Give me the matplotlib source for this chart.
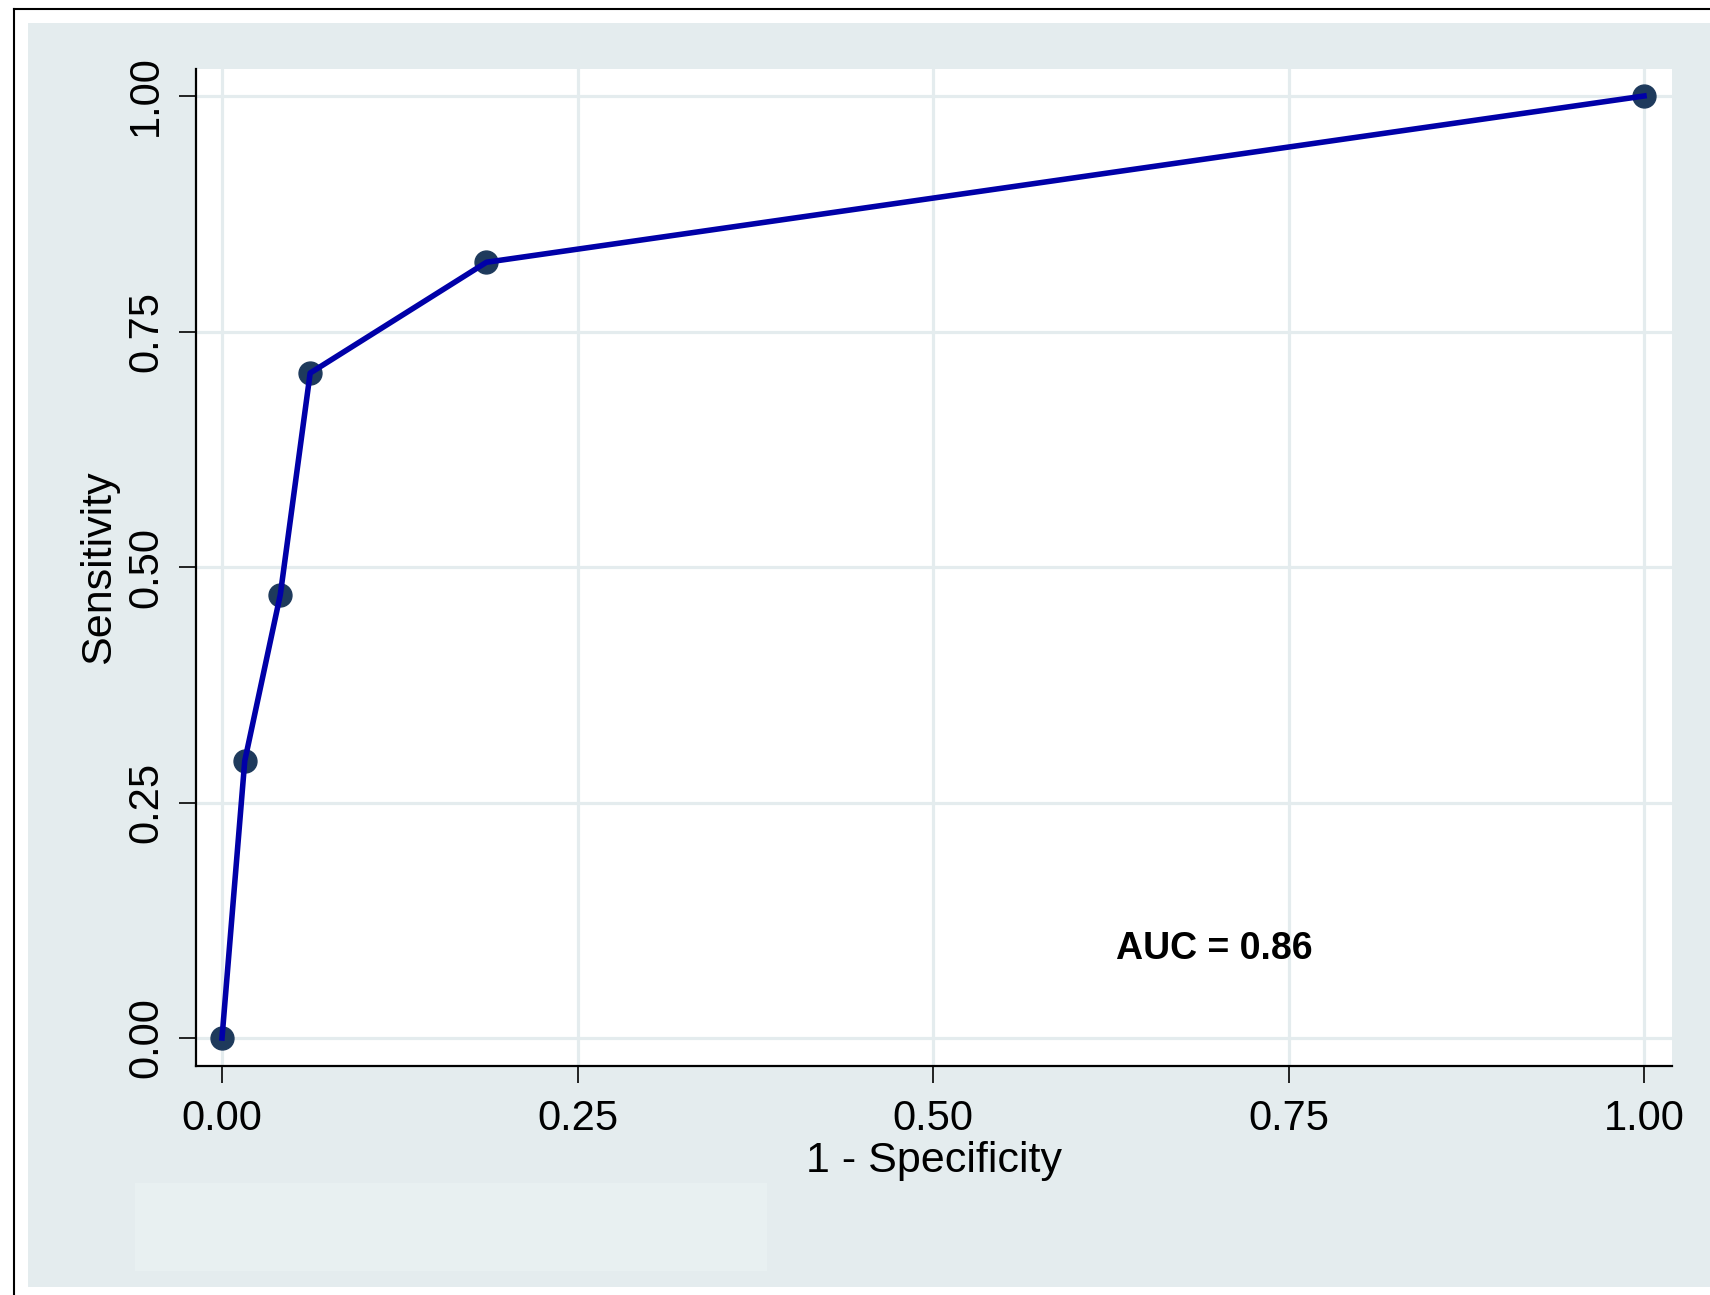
import matplotlib
matplotlib.use("Agg")
import matplotlib.pyplot as plt
from matplotlib.patches import Rectangle
from matplotlib.lines import Line2D

# ROC curve operating points
fpr = [0.0, 0.016, 0.041, 0.062, 0.186, 1.0]          # 1 - Specificity
sensitivity = [0.0, 5/17, 8/17, 12/17, 14/17, 1.0]    # Sensitivity
auc_label = "AUC = 0.86"

x_ticks = [0.0, 0.25, 0.5, 0.75, 1.0]
y_ticks = [0.0, 0.25, 0.5, 0.75, 1.0]
tick_labels = ["0.00", "0.25", "0.50", "0.75", "1.00"]

plt.rcParams["font.family"] = ["Liberation Sans", "DejaVu Sans"]

W, H = 1710, 1295
fig = plt.figure(figsize=(W / 100, H / 100), dpi=100, facecolor="white")

bg = "#E4ECEE"
# outer graph region
fig.patches.append(Rectangle((28 / W, 1 - 1287 / H), 1 - 28 / W, (1287 - 23) / H,
                             transform=fig.transFigure, facecolor=bg,
                             edgecolor="none", zorder=-2))
# lighter legend-area box
fig.patches.append(Rectangle((135 / W, 1 - 1271 / H), (767 - 135) / W, (1271 - 1183) / H,
                             transform=fig.transFigure, facecolor="#E8F0F1",
                             edgecolor="none", zorder=-1))
# frame lines (left and top)
fig.lines.append(Line2D([14 / W, 14 / W], [0, 1 - 9 / H], transform=fig.transFigure,
                        color="black", lw=1.5, zorder=-1))
fig.lines.append(Line2D([14 / W, 1], [1 - 9 / H, 1 - 9 / H], transform=fig.transFigure,
                        color="black", lw=1.5, zorder=-1))

ax = fig.add_axes([196 / W, 1 - 1066 / H, (1672 - 196) / W, (1066 - 69) / H])
ax.set_facecolor("white")
ax.set_xlim(-26 / 1422, 1 + 28 / 1422)
ax.set_ylim(-28 / 942, 1 + 27 / 942)

ax.set_xticks(x_ticks)
ax.set_xticklabels(tick_labels)
ax.set_yticks(y_ticks)
ax.set_yticklabels(tick_labels)

ax.grid(True, color=bg, lw=2.3, zorder=0)
ax.set_axisbelow(True)

for side in ("top", "right"):
    ax.spines[side].set_visible(False)
for side in ("left", "bottom"):
    ax.spines[side].set_linewidth(1.6)
    ax.spines[side].set_color("black")

ax.tick_params(axis="both", direction="out", length=12.5, width=1.2,
               color="black", labelsize=30)
ax.tick_params(axis="x", pad=11)
ax.tick_params(axis="y", labelrotation=90, pad=9)
for lab in ax.get_yticklabels():
    lab.set_va("center")

# markers under the connecting line
ax.plot(fpr, sensitivity, linestyle="none", marker="o", markersize=16.5,
        color="#1E3A5C", zorder=2, clip_on=False)
ax.plot(fpr, sensitivity, color="#0000A8", lw=4.0, zorder=3, clip_on=False)

ax.text(0.629, 0.095, auc_label, fontsize=27, fontweight="bold",
        ha="left", va="center", color="black")

ax.set_xlabel("1 - Specificity", fontsize=31)
ax.xaxis.set_label_coords(0.5, -0.075)
ax.set_ylabel("Sensitivity", fontsize=31)
ax.yaxis.set_label_coords(-0.0655, 0.5)
ax.yaxis.label.set_va("center")

fig.savefig("out.png", dpi=100, facecolor="white")
